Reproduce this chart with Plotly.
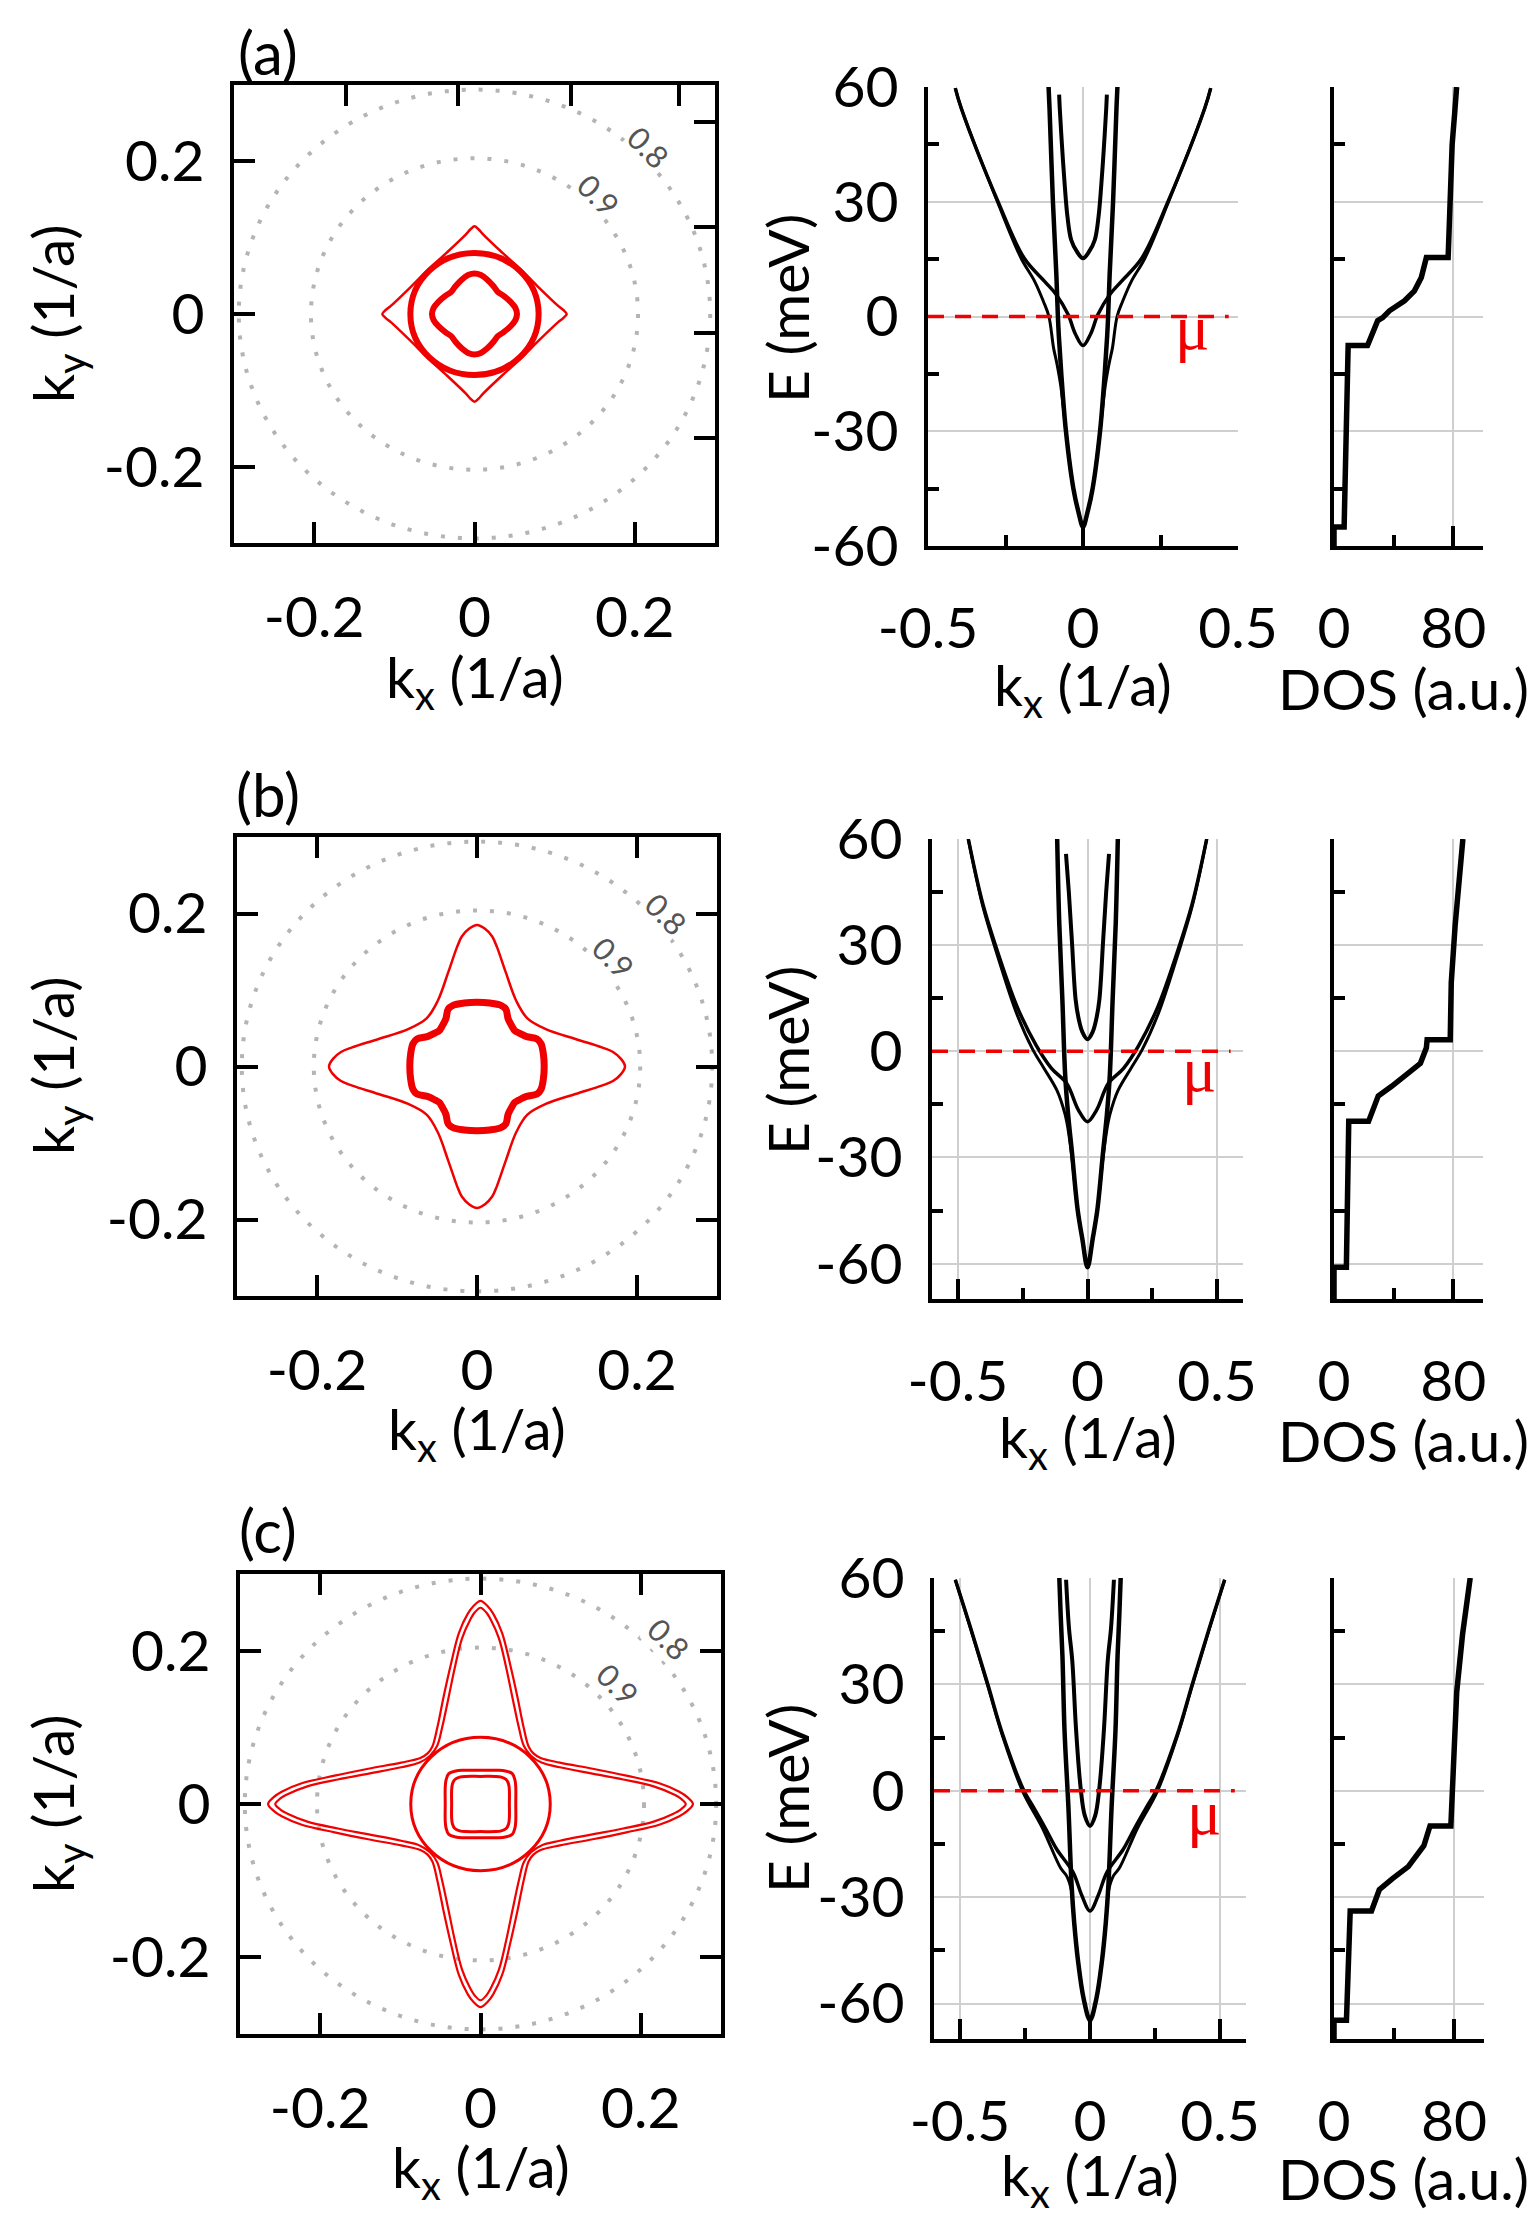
import plotly.graph_objects as go

W, H = 1537, 2223

# ---------------- data ----------------
# dotted reference contours (same in all three rows)
ref_levels = ['0.8', '0.9']
ref_radii = [0.294, 0.204]
ref_label_pos = [[(0.217, 0.219), (0.155, 0.156)],
                 [(0.237, 0.200), (0.170, 0.143)],
                 [(0.235, 0.215), (0.171, 0.156)]]

# Fermi contours, first octant (kx, ky) from 0 to 45 deg
fs_a_diamond = [(0.115, 0.0), (0.111, 0.005), (0.104, 0.011), (0.080, 0.035), (0.058, 0.058)]
fs_a_inner = [(0.053, 0.0), (0.051, 0.008), (0.045, 0.016), (0.036, 0.024), (0.029, 0.029)]
fs_a_circle = 0.080

fs_b_star = [(0.185, 0.0), (0.180, 0.010), (0.170, 0.019), (0.156, 0.025), (0.123, 0.036),
             (0.086, 0.049), (0.063, 0.063)]
fs_b_inner = [(0.084, 0.0), (0.083, 0.016), (0.080, 0.030), (0.075, 0.036), (0.062, 0.039),
              (0.052, 0.044), (0.047, 0.047)]

fs_c_star_out = [(0.265, 0.0), (0.258, 0.009), (0.248, 0.016), (0.223, 0.027), (0.182, 0.037),
                 (0.140, 0.046), (0.099, 0.054), (0.075, 0.060), (0.066, 0.066)]
fs_c_star_in = [(0.256, 0.0), (0.250, 0.007), (0.240, 0.013), (0.216, 0.023), (0.178, 0.032),
                (0.138, 0.040), (0.099, 0.048), (0.076, 0.054), (0.063, 0.063)]
fs_c_circle = 0.087
fs_c_sq_out = [(0.044, 0.0), (0.044, 0.022), (0.043, 0.031), (0.0396, 0.0396)]
fs_c_sq_in = [(0.036, 0.0), (0.036, 0.018), (0.035, 0.026), (0.032, 0.032)]

fs_a_top_ticks = [-0.16, -0.02, 0.12, 0.255]
fs_a_right_ticks = [0.252, 0.114, -0.025, -0.162]

# bands, k >= 0 branch (k, E in meV)
band_a_A = [(0, 15.2), (0.020, 17.0), (0.038, 20.0), (0.050, 26.0), (0.059, 34.4), (0.068, 45.0),
            (0.075, 54.5), (0.077, 58.0)]
band_a_B = [(0, -7.6), (0.025, -4.5), (0.048, 0.5), (0.086, 5.7), (0.124, 9.2), (0.190, 15.3),
            (0.274, 30.0), (0.393, 54.5), (0.412, 59.7)]
band_a_C = [(0, -55), (0.015, -51), (0.031, -45), (0.055, -30), (0.070, -15), (0.078, -5), (0.081, 0),
            (0.086, 11), (0.097, 30), (0.108, 54.5), (0.111, 60)]
band_a_D = [(0, -55), (0.015, -51), (0.031, -45), (0.055, -30), (0.072, -18), (0.085, -12), (0.095, -8.2),
            (0.110, 0), (0.128, 4.0), (0.156, 9.2), (0.200, 15.3), (0.276, 30.0), (0.393, 54.5),
            (0.412, 59.7)]

band_b_A = [(0, 3.4), (0.020, 5.5), (0.035, 9.5), (0.046, 14.7), (0.060, 30.9), (0.072, 45.0),
            (0.083, 55.8)]
band_b_B = [(0, -19.9), (0.035, -16.6), (0.080, -9.1), (0.139, -4.8), (0.198, 1.7), (0.271, 12.5),
            (0.345, 27.7), (0.404, 41.7), (0.460, 60)]
band_b_C = [(0, -61), (0.020, -53), (0.038, -44.8), (0.060, -28.5), (0.075, -17.7), (0.086, -6.9),
            (0.097, 14.7), (0.109, 36.3), (0.117, 60)]
band_b_D = [(0, -61), (0.020, -53), (0.038, -44.8), (0.060, -30), (0.075, -22), (0.087, -17.7),
            (0.117, -11.2), (0.168, -4.8), (0.212, 0.6), (0.275, 11), (0.345, 26.5), (0.404, 41),
            (0.460, 60)]

band_c_A = [(0, -9.9), (0.020, -7.0), (0.036, 0.8), (0.054, 17.7), (0.068, 36.5), (0.081, 46.0),
            (0.092, 59.5)]
band_c_B = [(0, -33.9), (0.031, -29.6), (0.065, -23.0), (0.128, -16.5), (0.170, -10.8), (0.217, -4.7),
            (0.254, 0), (0.336, 15.9), (0.393, 30), (0.459, 45.9), (0.518, 59.5)]
band_c_C = [(0, -64.7), (0.024, -58.8), (0.046, -48), (0.061, -37), (0.071, -26.3), (0.083, -4.7),
            (0.098, 17), (0.106, 38), (0.113, 50), (0.118, 60)]
band_c_D = [(0, -64.7), (0.024, -58.8), (0.046, -48), (0.061, -37), (0.072, -28), (0.090, -24),
            (0.113, -21.8), (0.183, -10.5), (0.260, 0), (0.336, 15.4), (0.393, 29.5), (0.459, 45.6),
            (0.518, 59.5)]

# density of states (a.u.) against E (meV)
dos_a_E = [-60, -55, -55, -40, -25, -8, -7.6, -7.6, -4.6, -1.1, -0.3, 1.5, 4.1, 6.7, 10.2, 15.4, 15.4,
           27.6, 45, 53.7, 60]
dos_a_val = [0, 0, 6.8, 7.5, 8.5, 9.3, 9.5, 22.5, 25.9, 29.3, 32.7, 37.2, 47.3, 54, 58.6, 62, 76.6,
             77.7, 79.3, 81.1, 82.3]
dos_b_E = [-70, -61, -61, -29.4, -20.7, -19.8, -19.8, -15.3, -12.6, -9.9, -6.6, -3.4, 1.0, 3.3, 3.3,
           19.4, 35.6, 48.6, 60]
dos_b_val = [0, 0, 8.3, 9.0, 9.8, 9.9, 23.2, 27.1, 29.7, 38.7, 49, 58, 62, 62.5, 78, 78.7, 81.3, 83.9, 86.5]
dos_c_E = [-70, -64.7, -64.7, -48, -34, -33.9, -33.9, -30.6, -27.9, -24.7, -21.4, -15.5, -10.1, -9.9,
           -9.9, 6.2, 27.8, 44.1, 60]
dos_c_val = [0, 0, 8.3, 9.5, 10.8, 10.8, 25, 27.6, 30.2, 39.2, 49.5, 59.9, 63.7, 64, 77.9, 79.2, 81.8,
             85.7, 90.8]

mu_end = [0.47, 0.552, 0.557]
mu_label = [(0.352, -3.0), (0.430, -5.0), (0.440, -6.0)]

fs_ticks = [-0.2, 0, 0.2]
fs_ticktext = ['-0.2', '0', '0.2']
k_ticks = [-0.5, 0, 0.5]
k_ticktext = ['-0.5', '0', '0.5']
k_minor = [-0.25, 0.25]
e_ticks = [-60, -30, 0, 30, 60]
e_ticktext = ['-60', '-30', '0', '30', '60']
e_minor = [-45, -15, 15, 45]
dos_ticks = [0, 80]
dos_ticktext = ['0', '80']
dos_minor = [40]

k_ranges = [[-0.5, 0.5], [-0.6, 0.6], [-0.6, 0.6]]
e_ranges = [[-60, 60], [-70, 60], [-70, 60]]
panel_labels = ['(a)', '(b)', '(c)']

# ---------------- layout geometry (pixels) ----------------
fs_frames = [(226, 707, 77, 535), (229, 709, 829, 1288), (232, 713, 1566, 2026)]
band_frames = [(920, 1230, 79, 538), (924, 1235, 831, 1291), (926, 1238, 1570, 2031)]
dos_frames = [(1326, 1475, 79, 538), (1326, 1475, 831, 1291), (1326, 1476, 1570, 2031)]
row_shift = [0, 752, 1490]
label_y = [44, 786, 1522]

RED = '#f00000'
GRID = '#cfcfcf'
FONT = 'Lato'
FS_TXT = 57


def xdom(f):
    return [f[0] / W, f[1] / W]


def ydom(f):
    return [1 - f[3] / H, 1 - f[2] / H]


def closed(pts):
    q = list(pts) + [(y, x) for x, y in reversed(pts[:-1])]
    upper = q + [(-x, y) for x, y in reversed(q[:-1])]
    full = upper + [(x, -y) for x, y in reversed(upper[:-1])]
    return [p[0] for p in full], [p[1] for p in full]


def branch(pts):
    full = [(-k, e) for k, e in reversed(pts[1:])] + list(pts)
    return [p[0] for p in full], [p[1] for p in full]


fig = go.Figure()
tickfont = dict(family=FONT, size=FS_TXT, color='black')

fs_sets = [
    [(fs_a_diamond, 2.5), (fs_a_inner, 6)],
    [(fs_b_star, 2.5), (fs_b_inner, 7)],
    [(fs_c_star_out, 2.2), (fs_c_star_in, 2.2), (fs_c_sq_out, 3), (fs_c_sq_in, 3)],
]
fs_circles = [(fs_a_circle, 6), None, (fs_c_circle, 3)]
band_sets = [
    [(band_a_A, 4), (band_a_B, 3.5), (band_a_C, 4.5), (band_a_D, 3)],
    [(band_b_A, 4), (band_b_B, 3.5), (band_b_C, 4.5), (band_b_D, 3)],
    [(band_c_A, 4), (band_c_B, 3.5), (band_c_C, 4.5), (band_c_D, 3)],
]
dos_sets = [(dos_a_val, dos_a_E), (dos_b_val, dos_b_E), (dos_c_val, dos_c_E)]

shapes = []
annotations = []


def xs(n):
    return 'x' if n == 1 else 'x%d' % n


def ys(n):
    return 'y' if n == 1 else 'y%d' % n


for r in range(3):
    n_fs, n_band, n_dos = 3 * r + 1, 3 * r + 2, 3 * r + 3

    # Fermi surface panel
    for pts, lw in fs_sets[r]:
        cx, cy = closed(pts)
        fig.add_trace(go.Scatter(x=cx, y=cy, mode='lines', line=dict(color=RED, width=lw, shape='spline'),
                                 xaxis=xs(n_fs), yaxis=ys(n_fs), hoverinfo='skip'))
    for rad in ref_radii:
        shapes.append(dict(type='circle', xref=xs(n_fs), yref=ys(n_fs), x0=-rad, x1=rad, y0=-rad, y1=rad,
                           line=dict(color='#b4b4b4', width=4, dash='4px,13px'), layer='below'))
    if fs_circles[r]:
        rad, lw = fs_circles[r]
        shapes.append(dict(type='circle', xref=xs(n_fs), yref=ys(n_fs), x0=-rad, x1=rad, y0=-rad, y1=rad,
                           line=dict(color=RED, width=lw)))
    for txt, (lx, ly) in zip(ref_levels, ref_label_pos[r]):
        annotations.append(dict(text=txt, x=lx, y=ly, xref=xs(n_fs), yref=ys(n_fs), showarrow=False,
                                textangle=45, bgcolor='white', borderpad=0,
                                font=dict(family=FONT, size=31, color='#555555')))

    # band panel
    for pts, lw in band_sets[r]:
        bx, by = branch(pts)
        fig.add_trace(go.Scatter(x=bx, y=by, mode='lines', line=dict(color='black', width=lw, shape='spline'),
                                 xaxis=xs(n_band), yaxis=ys(n_band), hoverinfo='skip'))
    fig.add_trace(go.Scatter(x=[k_ranges[r][0], mu_end[r]], y=[0, 0], mode='lines',
                             line=dict(color=RED, width=3.5, dash='16px,11px'),
                             xaxis=xs(n_band), yaxis=ys(n_band), hoverinfo='skip'))
    annotations.append(dict(text='μ', x=mu_label[r][0], y=mu_label[r][1], xref=xs(n_band), yref=ys(n_band),
                            showarrow=False, font=dict(family='Liberation Serif', size=64, color=RED)))

    # DOS panel
    dv, de = dos_sets[r]
    fig.add_trace(go.Scatter(x=dv, y=de, mode='lines', line=dict(color='black', width=5.5),
                             xaxis=xs(n_dos), yaxis=ys(n_dos), hoverinfo='skip'))

    ff, bf, df = fs_frames[r], band_frames[r], dos_frames[r]
    fs_common = dict(range=[-0.3, 0.3], showline=True, linewidth=4, linecolor='black', ticks='inside',
                     ticklen=21, tickwidth=3.5, tickcolor='black', tickvals=fs_ticks, ticktext=fs_ticktext,
                     showgrid=False, zeroline=False, tickfont=tickfont, automargin=False,
                     mirror=True if r == 0 else 'ticks')
    fig.layout['xaxis%d' % n_fs] = dict(fs_common, domain=xdom(ff), anchor=ys(n_fs), ticklabelstandoff=22)
    fig.layout['yaxis%d' % n_fs] = dict(fs_common, domain=ydom(ff), anchor=xs(n_fs), ticklabelstandoff=14)

    minor_k = dict(tickvals=k_minor, ticks='inside', ticklen=11, tickwidth=3.5, tickcolor='black', showgrid=False)
    minor_e = dict(tickvals=e_minor, ticks='inside', ticklen=11, tickwidth=3.5, tickcolor='black', showgrid=False)
    fig.layout['xaxis%d' % n_band] = dict(domain=xdom(bf), anchor=ys(n_band), range=k_ranges[r], showline=True,
                                          linewidth=4, linecolor='black', ticks='inside', ticklen=20, tickwidth=3.5,
                                          tickcolor='black', tickvals=k_ticks, ticktext=k_ticktext, minor=minor_k,
                                          showgrid=True, gridcolor=GRID, gridwidth=2, zeroline=False,
                                          tickfont=tickfont, ticklabelstandoff=30, automargin=False)
    fig.layout['yaxis%d' % n_band] = dict(domain=ydom(bf), anchor=xs(n_band), range=e_ranges[r], showline=True,
                                          linewidth=4, linecolor='black', ticks='', tickvals=e_ticks,
                                          ticktext=e_ticktext, minor=minor_e, showgrid=True, gridcolor=GRID,
                                          gridwidth=2, zeroline=False, tickfont=tickfont, ticklabelstandoff=14,
                                          automargin=False)
    fig.layout['xaxis%d' % n_dos] = dict(domain=xdom(df), anchor=ys(n_dos), range=[0, 100], showline=True,
                                         linewidth=4, linecolor='black', ticks='inside', ticklen=20, tickwidth=3.5,
                                         tickcolor='black', tickvals=dos_ticks, ticktext=dos_ticktext,
                                         minor=dict(minor_k, tickvals=dos_minor), showgrid=True, gridcolor=GRID,
                                         gridwidth=2, zeroline=False, tickfont=tickfont, ticklabelstandoff=30,
                                         automargin=False)
    fig.layout['yaxis%d' % n_dos] = dict(domain=ydom(df), anchor=xs(n_dos), range=e_ranges[r], showline=True,
                                         linewidth=4, linecolor='black', ticks='', tickvals=e_ticks,
                                         showticklabels=False, minor=minor_e, showgrid=True, gridcolor=GRID,
                                         gridwidth=2, zeroline=False, automargin=False)

    # axis titles and panel label
    s = row_shift[r]
    fs_cx = (ff[0] + ff[1]) / 2
    band_cx = (bf[0] + bf[1]) / 2
    title_font = dict(family=FONT, size=FS_TXT, color='black')
    for txt, x, y, ang in [('k<sub>x</sub> (1/a)', fs_cx, 672 + s, 0),
                           ('k<sub>y</sub> (1/a)', 48, 306 + s, -90),
                           ('k<sub>x</sub> (1/a)', band_cx, 680 + s, 0),
                           ('E (meV)', 779, 300 + s, -90),
                           ('DOS (a.u.)', 1395, 680 + s, 0)]:
        annotations.append(dict(text=txt, x=x / W, y=1 - y / H, xref='paper', yref='paper', showarrow=False,
                                textangle=ang, font=title_font, xanchor='center', yanchor='middle'))
    annotations.append(dict(text=panel_labels[r], x=260 / W, y=1 - label_y[r] / H, xref='paper',
                            yref='paper', showarrow=False, font=dict(family=FONT, size=60, color='black'),
                            xanchor='center', yanchor='middle'))

# odd top / right ticks of panel (a)
fig.layout['xaxis10'] = dict(overlaying='x', side='top', anchor='y', range=[-0.3, 0.3], tickvals=fs_a_top_ticks,
                             ticks='inside', ticklen=21, tickwidth=3.5, tickcolor='black', showticklabels=False,
                             showline=False, showgrid=False, zeroline=False, automargin=False)
fig.layout['yaxis10'] = dict(overlaying='y', side='right', anchor='x', range=[-0.3, 0.3], tickvals=fs_a_right_ticks,
                             ticks='inside', ticklen=21, tickwidth=3.5, tickcolor='black', showticklabels=False,
                             showline=False, showgrid=False, zeroline=False, automargin=False)
fig.add_trace(go.Scatter(x=[0], y=[0], mode='markers', marker=dict(opacity=0), xaxis='x10', yaxis='y',
                         hoverinfo='skip'))
fig.add_trace(go.Scatter(x=[0], y=[0], mode='markers', marker=dict(opacity=0), xaxis='x', yaxis='y10',
                         hoverinfo='skip'))

fig.update_layout(width=W, height=H, margin=dict(l=0, r=0, t=0, b=0, autoexpand=False), showlegend=False,
                  plot_bgcolor='white', paper_bgcolor='white', shapes=shapes, annotations=annotations)

fig.write_html("out.html")
